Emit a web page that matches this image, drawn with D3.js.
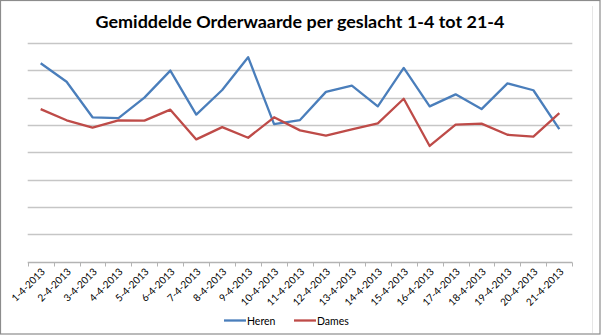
<!DOCTYPE html>
<html><head><meta charset="utf-8">
<script src="https://cdn.jsdelivr.net/npm/d3@7"></script>
<style>body{margin:0;background:#fff}svg{display:block}</style>
</head><body>
<svg id="c" width="601" height="335"></svg>
<script>
const categories = ["1-4-2013","2-4-2013","3-4-2013","4-4-2013","5-4-2013","6-4-2013","7-4-2013","8-4-2013","9-4-2013","10-4-2013","11-4-2013","12-4-2013","13-4-2013","14-4-2013","15-4-2013","16-4-2013","17-4-2013","18-4-2013","19-4-2013","20-4-2013","21-4-2013"];
const heren = [72.6,65.8,52.8,52.5,60.0,69.9,53.8,62.8,74.8,50.3,51.8,62.1,64.4,56.8,70.9,56.8,61.2,55.8,65.2,62.7,48.5];
const dames = [55.8,51.7,49.0,51.7,51.6,55.6,44.7,49.2,45.3,52.8,48.0,46.1,48.4,50.6,59.6,42.3,50.1,50.5,46.4,45.7,54.3];
const yTicks = [0,10,20,30,40,50,60,70,80];
const seriesNames = ["Heren","Dames"];
const colors = ["#4A7EBB","#BE4B48"];
const title = "Gemiddelde Orderwaarde per geslacht 1-4 tot 21-4";

const svg = d3.select("#c");
const font = "Lato, 'Open Sans', sans-serif";

// frame
svg.append("rect").attr("x",0.5).attr("y",0.5).attr("width",599.5).attr("height",333.5)
  .attr("fill","#fff").attr("stroke","#8c8c8c").attr("stroke-width",1.2);
svg.append("line").attr("x1",592.5).attr("x2",592.5).attr("y1",6).attr("y2",333)
  .attr("stroke","#e6e6e6").attr("stroke-width",1);

const x = d3.scaleBand().domain(categories).range([27.7,572.3]).padding(0);
const y = d3.scaleLinear().domain([0,80]).range([261.5,43]);

// gridlines
svg.append("g").selectAll("line").data(yTicks.filter(d=>d>0)).join("line")
  .attr("x1",x.range()[0]).attr("x2",x.range()[1])
  .attr("y1",d=>Math.round(y(d))+0.5).attr("y2",d=>Math.round(y(d))+0.5)
  .attr("stroke","#c6c6c6").attr("stroke-width",1.3);

// x axis
const axisY = Math.round(y(0))+0.5;
svg.append("line").attr("x1",x.range()[0]).attr("x2",x.range()[1])
  .attr("y1",axisY).attr("y2",axisY).attr("stroke","#b3b3b3").attr("stroke-width",1.3);
const bounds = categories.map(c=>x(c)).concat([x.range()[1]]);
svg.append("g").selectAll("line").data(bounds).join("line")
  .attr("x1",d=>Math.round(d)+0.5).attr("x2",d=>Math.round(d)+0.5)
  .attr("y1",axisY).attr("y2",axisY+4).attr("stroke","#b3b3b3").attr("stroke-width",1);

svg.append("g").selectAll("text").data(categories).join("text")
  .attr("transform",d=>`translate(${x(d)+x.bandwidth()/2+5},${axisY+10}) rotate(-45)`)
  .attr("text-anchor","end")
  .attr("font-family",font).attr("font-size",10).attr("fill","#000")
  .text(d=>d);

// lines
const line = d3.line().x((d,i)=>x(categories[i])+x.bandwidth()/2).y(d=>y(d));
[heren,dames].forEach((s,k)=>{
  svg.append("path").datum(s).attr("d",line).attr("fill","none")
    .attr("stroke",colors[k]).attr("stroke-width",2.3).attr("stroke-linejoin","round");
});

// title
const t = svg.append("text").attr("x",300).attr("y",28).attr("text-anchor","middle")
  .attr("font-family",font).attr("font-weight","bold").attr("font-size",18).attr("fill","#000")
  .text(title);
const w = t.node().getComputedTextLength();
t.attr("font-size",18*409/w);

// legend
const legX = [224,294];
seriesNames.forEach((n,k)=>{
  const g = svg.append("g");
  g.append("line").attr("x1",legX[k]).attr("x2",legX[k]+22).attr("y1",320.5).attr("y2",320.5)
    .attr("stroke",colors[k]).attr("stroke-width",2.3);
  g.append("text").attr("x",legX[k]+23).attr("y",324.5).attr("font-family",font)
    .attr("font-size",10.5).attr("fill","#000").text(n);
});
</script>
</body></html>
